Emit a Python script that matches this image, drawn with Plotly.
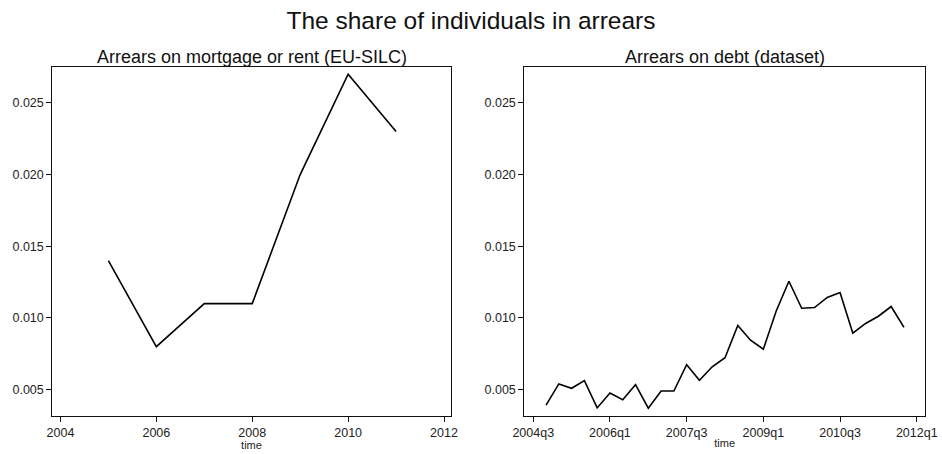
import plotly.graph_objects as go

# Left panel: EU-SILC annual
years = [2005, 2006, 2007, 2008, 2009, 2010, 2011]
silc_share = [0.014, 0.008, 0.011, 0.011, 0.020, 0.027, 0.023]

# Right panel: quarterly dataset (Stata %tq: 1960q1 = 0)
quarters = list(range(179, 208))
debt_share = [0.00392, 0.0054, 0.0051, 0.00563, 0.00373, 0.00477, 0.0043, 0.00535,
              0.00371, 0.00491, 0.00491, 0.00674, 0.00566, 0.0066, 0.00723, 0.00948,
              0.00845, 0.00782, 0.01047, 0.01256, 0.01068, 0.01073, 0.01143, 0.01178,
              0.00894, 0.00962, 0.01012, 0.0108, 0.00934]

year_ticks = [2004, 2006, 2008, 2010, 2012]
q_tickvals = [178, 184, 190, 196, 202, 208]
q_ticktext = ["2004q3", "2006q1", "2007q3", "2009q1", "2010q3", "2012q1"]
y_ticks = [0.005, 0.010, 0.015, 0.020, 0.025]
y_ticktext = ["0.005", "0.010", "0.015", "0.020", "0.025"]

FONT = "Liberation Sans, Arial, sans-serif"

fig = go.Figure()
fig.add_trace(go.Scatter(x=years, y=silc_share, mode="lines",
                         line=dict(color="black", width=1.6), xaxis="x", yaxis="y",
                         showlegend=False))
fig.add_trace(go.Scatter(x=quarters, y=debt_share, mode="lines",
                         line=dict(color="black", width=1.6), xaxis="x2", yaxis="y2",
                         showlegend=False))

ydom = [0.0848, 0.8524]
axis_common = dict(showgrid=False, zeroline=False, showline=True, linecolor="#111",
                   linewidth=1, mirror=True, ticks="outside", ticklen=5, tickwidth=1,
                   tickcolor="#111", automargin=False,
                   tickfont=dict(family=FONT, size=12.5, color="#222"))
xtitle = dict(text="time", font=dict(family=FONT, size=11, color="#222"), standoff=0)

fig.update_layout(
    width=942, height=454,
    margin=dict(l=0, r=0, t=0, b=0, autoexpand=False),
    paper_bgcolor="white", plot_bgcolor="white",
    font=dict(family=FONT, color="#111"),
    title=dict(text="The share of individuals in arrears", x=0.5, xanchor="center",
               y=1 - 20 / 454, yanchor="middle",
               font=dict(family=FONT, size=24.5, color="#111")),
    xaxis=dict(domain=[0.0555, 0.4785], range=[2003.83, 2012.14],
               tickvals=year_ticks, ticktext=[str(v) for v in year_ticks],
               title=xtitle, anchor="y", **axis_common),
    yaxis=dict(domain=ydom, range=[0.0032, 0.0275], tickvals=y_ticks, ticktext=y_ticktext,
               anchor="x", **axis_common),
    xaxis2=dict(domain=[0.5566, 0.982], range=[177.3, 208.65],
                tickvals=q_tickvals, ticktext=q_ticktext,
                title=xtitle, anchor="y2", **axis_common),
    yaxis2=dict(domain=ydom, range=[0.0032, 0.0275], tickvals=y_ticks, ticktext=y_ticktext,
                anchor="x2", **axis_common),
    annotations=[
        dict(text="Arrears on mortgage or rent (EU-SILC)", x=(0.0555 + 0.4785) / 2, y=1 - 57 / 454,
             xref="paper", yref="paper", xanchor="center", yanchor="middle", showarrow=False,
             font=dict(family=FONT, size=18, color="#111")),
        dict(text="Arrears on debt (dataset)", x=(0.5566 + 0.982) / 2, y=1 - 57 / 454,
             xref="paper", yref="paper", xanchor="center", yanchor="middle", showarrow=False,
             font=dict(family=FONT, size=18, color="#111")),
    ],
)

fig.write_html("out.html")
